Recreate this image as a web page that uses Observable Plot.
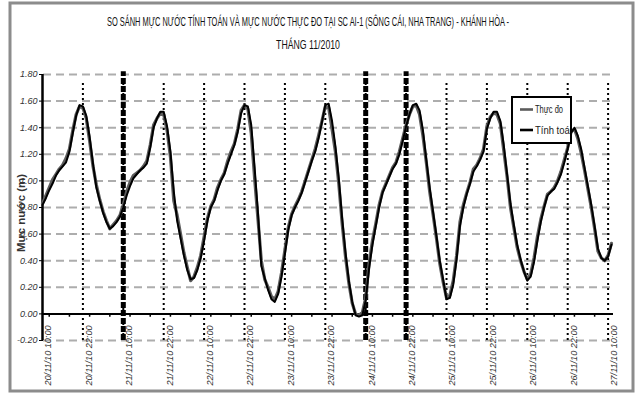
<!DOCTYPE html>
<html><head><meta charset="utf-8">
<script src="https://cdn.jsdelivr.net/npm/d3@7"></script>
<script src="https://cdn.jsdelivr.net/npm/@observablehq/plot@0.6"></script>
<style>
body{margin:0;background:#fff;}
#wrap{position:relative;width:637px;height:396px;overflow:hidden;background:#fff;}
</style></head><body><div id="wrap"></div>
<script>
const titleLines = ["SO SÁNH MỰC NƯỚC TÍNH TOÁN VÀ MỰC NƯỚC THỰC ĐO TẠI SC AI-1 (SÔNG CÁI, NHA TRANG) - KHÁNH HÒA -", "THÁNG 11/2010"];
const yLabel = "Mực nước (m)";
const seriesNames = ["Thực đo", "Tính toán"];
const seriesColors = ["#5c5c5c", "#000000"];
const xTickLabels = ["20/11/10 10:00","20/11/10 22:00","21/11/10 10:00","21/11/10 22:00","22/11/10 10:00","22/11/10 22:00","23/11/10 10:00","23/11/10 22:00","24/11/10 10:00","24/11/10 22:00","25/11/10 10:00","25/11/10 22:00","26/11/10 10:00","26/11/10 22:00","27/11/10 10:00"];
const markedTimes = ["21/11/10 10:00","24/11/10 10:00","24/11/10 22:00"];
const yTicks = [-0.2,0,0.2,0.4,0.6,0.8,1.0,1.2,1.4,1.6,1.8];
// hourly values from 20/11/10 10:00
const observed = [0.83,0.89,0.95,1.01,1.05,1.09,1.12,1.17,1.24,1.38,
1.50,1.56,1.55,1.47,1.30,1.11,0.97,0.86,0.77,0.70,
0.64,0.67,0.70,0.74,0.82,0.92,0.99,1.04,1.06,1.08,
1.11,1.15,1.27,1.42,1.47,1.51,1.50,1.38,1.18,0.85,
0.74,0.60,0.46,0.35,0.25,0.28,0.35,0.44,0.58,0.72,
0.81,0.86,0.95,1.01,1.06,1.15,1.22,1.28,1.39,1.53,
1.57,1.54,1.36,1.02,0.71,0.40,0.26,0.20,0.13,0.11,
0.17,0.31,0.48,0.65,0.75,0.81,0.86,0.92,1.00,1.08,
1.16,1.24,1.34,1.45,1.56,1.55,1.39,1.22,0.98,0.68,
0.43,0.23,0.08,0.00,-0.01,0.01,0.12,0.38,0.55,0.68,
0.82,0.92,0.98,1.04,1.10,1.14,1.22,1.32,1.42,1.50,
1.56,1.57,1.50,1.34,1.14,0.92,0.75,0.57,0.38,0.24,
0.12,0.14,0.25,0.44,0.69,0.82,0.91,0.99,1.09,1.12,
1.17,1.24,1.41,1.48,1.51,1.50,1.43,1.23,1.03,0.80,
0.65,0.50,0.40,0.32,0.26,0.30,0.42,0.58,0.71,0.81,
0.90,0.92,0.95,1.00,1.07,1.16,1.25,1.37,1.39,1.32,
1.21,1.08,0.94,0.80,0.64,0.47,0.42,0.40,0.44,0.53];
const computed = [0.82,0.87,0.93,0.98,1.04,1.08,1.11,1.14,1.22,1.36,
1.49,1.57,1.56,1.49,1.33,1.13,0.95,0.85,0.76,0.69,
0.64,0.66,0.69,0.73,0.80,0.89,0.96,1.02,1.05,1.08,
1.10,1.13,1.25,1.40,1.47,1.52,1.52,1.41,1.22,0.92,
0.70,0.57,0.44,0.33,0.26,0.27,0.33,0.42,0.55,0.70,
0.80,0.85,0.93,1.00,1.05,1.13,1.20,1.27,1.37,1.51,
1.57,1.56,1.42,1.10,0.76,0.36,0.27,0.18,0.11,0.09,
0.15,0.28,0.45,0.63,0.74,0.80,0.85,0.91,0.99,1.07,
1.15,1.22,1.32,1.44,1.57,1.58,1.45,1.26,1.02,0.72,
0.46,0.25,0.09,-0.01,-0.02,-0.01,0.10,0.34,0.52,0.66,
0.80,0.91,0.97,1.03,1.09,1.13,1.20,1.30,1.41,1.50,
1.57,1.58,1.53,1.38,1.16,0.95,0.77,0.59,0.40,0.26,
0.11,0.12,0.22,0.41,0.66,0.80,0.90,0.98,1.07,1.11,
1.16,1.22,1.39,1.47,1.52,1.52,1.45,1.27,1.05,0.83,
0.67,0.52,0.41,0.32,0.25,0.28,0.39,0.55,0.69,0.80,
0.89,0.92,0.94,0.99,1.05,1.14,1.24,1.36,1.40,1.34,
1.24,1.10,0.96,0.82,0.66,0.49,0.42,0.40,0.43,0.52];

const parse = d3.utcParse("%d/%m/%y %H:%M");
const tickDates = xTickLabels.map(parse);
const t0 = tickDates[0], tEnd = tickDates[tickDates.length - 1];
const obsRows = observed.map((v, i) => ({t: d3.utcHour.offset(t0, i), v}));
const calcRows = computed.map((v, i) => ({t: d3.utcHour.offset(t0, i), v}));
const minorTicks = d3.utcHour.every(6).range(t0, d3.utcHour.offset(tEnd, 1));
const gridRows = yTicks.filter(d => d !== 0).map(v => ({v}));

const svg = Plot.plot({
  width: 637, height: 396,
  marginLeft: 43, marginRight: 24, marginTop: 74, marginBottom: 56,
  style: {background: "transparent", fontFamily: "'Liberation Sans', Arial, sans-serif"},
  x: {type: "utc", domain: [t0, tEnd], range: [42, 607.6]},
  y: {domain: [-0.2, 1.8], range: [340, 74]},
  marks: [
    Plot.ruleY(gridRows, {y: "v", stroke: "#adadad", strokeWidth: 2, strokeDasharray: "8 5"}),
    Plot.ruleX(tickDates.slice(1), {y1: -0.2, y2: 1.74, stroke: "#000", strokeWidth: 2, strokeDasharray: "2,3"}),
    Plot.ruleX(markedTimes.map(parse), {y1: -0.2, y2: 1.82, stroke: "#000", strokeWidth: 5, strokeDasharray: "6,2"}),
    Plot.ruleY([0], {stroke: "#000", strokeWidth: 2}),
    Plot.ruleX(minorTicks, {y1: 0, y2: -0.025, stroke: "#000", strokeWidth: 1.5}),
    Plot.ruleX([t0], {y1: -0.2, y2: 1.8, stroke: "#000", strokeWidth: 2.5}),
    Plot.line(obsRows, {x: "t", y: "v", stroke: seriesColors[0], strokeWidth: 3.2}),
    Plot.line(calcRows, {x: "t", y: "v", stroke: seriesColors[1], strokeWidth: 2}),
    Plot.axisY({ticks: yTicks, tickSize: 4, tickPadding: 2, tickFormat: d => d.toFixed(2), fontSize: 9, fontStyle: "italic", fill: "#333", label: null}),
    Plot.axisX({ticks: [], label: null}),
    Plot.text(tickDates, {x: d => d, frameAnchor: "bottom", text: (d, i) => xTickLabels[i], rotate: -90, textAnchor: "end", lineAnchor: "middle", dx: 6, dy: -15, fontSize: 9, fontStyle: "italic", fill: "#333"})
  ]
});
document.getElementById("wrap").appendChild(svg);

const s = d3.select(svg);
s.selectAll("text").filter(function() { return xTickLabels.includes(this.textContent); })
  .attr("textLength", 60).attr("lengthAdjust", "spacingAndGlyphs");

// outer border
s.append("rect").attr("x", 10).attr("y", 3).attr("width", 623).attr("height", 388)
  .attr("fill", "none").attr("stroke", "#8c8c8c").attr("stroke-width", 3);

// title, horizontally condensed to the original width
const tl = [{t: titleLines[0], y: 26, len: 403}, {t: titleLines[1], y: 49, len: 64}];
tl.forEach(o => {
  const t = s.append("text").attr("text-anchor", "middle").attr("font-size", 12).attr("fill", "#111").text(o.t);
  const w = t.node().getComputedTextLength() || o.len;
  t.attr("transform", `translate(308,${o.y}) scale(${o.len / w},1)`);
});

// y label
s.append("text").attr("transform", "translate(25,213) rotate(-90)").attr("text-anchor", "middle")
  .attr("font-size", 10).attr("font-weight", "bold").attr("fill", "#333")
  .attr("textLength", 78).attr("lengthAdjust", "spacingAndGlyphs").text(yLabel);

// legend
const lg = s.append("g");
lg.append("clipPath").attr("id", "lgclip").append("rect").attr("x", 512).attr("y", 97).attr("width", 58).attr("height", 46);
lg.append("rect").attr("x", 512).attr("y", 97).attr("width", 59).attr("height", 46)
  .attr("fill", "#fff").attr("stroke", "#000").attr("stroke-width", 2);
seriesNames.forEach((n, i) => {
  const y = 109.5 + i * 20.5;
  lg.append("line").attr("x1", 520).attr("x2", 533).attr("y1", y).attr("y2", y)
    .attr("stroke", seriesColors[i]).attr("stroke-width", 2.6);
  lg.append("text").attr("x", 535).attr("y", y + 3.5).attr("font-size", 10).attr("fill", "#222")
    .attr("text-anchor", "start").attr("clip-path", "url(#lgclip)")
    .attr("textLength", i === 0 ? 28 : 40).attr("lengthAdjust", "spacingAndGlyphs").text(n);
});
</script></body></html>
